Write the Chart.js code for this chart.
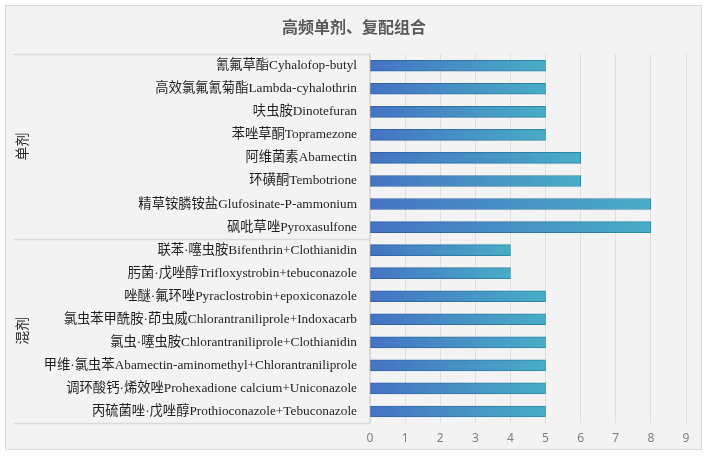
<!DOCTYPE html>
<html>
<head>
<meta charset="utf-8">
<script src="https://cdn.jsdelivr.net/npm/chart.js@4"></script>
<style>
  html, body { margin: 0; padding: 0; background: #fff; }
  #wrap { width: 708px; height: 457px; }
</style>
</head>
<body>
<div id="wrap"><canvas id="chart" width="708" height="457"></canvas></div>
<script>
// chart data
let title_text = "高频单剂、复配组合";
let group_names = ["单剂", "混剂"];
let group_sizes = [8, 8];
let labels = [
    "氰氟草酯Cyhalofop-butyl",
    "高效氯氟氰菊酯Lambda-cyhalothrin",
    "呋虫胺Dinotefuran",
    "苯唑草酮Topramezone",
    "阿维菌素Abamectin",
    "环磺酮Tembotrione",
    "精草铵膦铵盐Glufosinate-P-ammonium",
    "砜吡草唑Pyroxasulfone",
    "联苯·噻虫胺Bifenthrin+Clothianidin",
    "肟菌·戊唑醇Trifloxystrobin+tebuconazole",
    "唑醚·氟环唑Pyraclostrobin+epoxiconazole",
    "氯虫苯甲酰胺·茚虫威Chlorantraniliprole+Indoxacarb",
    "氯虫·噻虫胺Chlorantraniliprole+Clothianidin",
    "甲维·氯虫苯Abamectin-aminomethyl+Chlorantraniliprole",
    "调环酸钙·烯效唑Prohexadione calcium+Uniconazole",
    "丙硫菌唑·戊唑醇Prothioconazole+Tebuconazole"
];
let values = [5, 5, 5, 5, 6, 6, 8, 8, 4, 4, 5, 5, 5, 5, 5, 5];
let x_max = 9;

function bar_gradient(context, c0, c1) {
    let chart = context.chart;
    if (!chart.chartArea || context.type !== "data") return c0;
    let xs = chart.scales.x;
    let x0 = xs.getPixelForValue(0);
    let x1 = xs.getPixelForValue(context.raw);
    let g = chart.ctx.createLinearGradient(x0, 0, x1, 0);
    g.addColorStop(0, c0);
    g.addColorStop(1, c1);
    return g;
}

// background + frame and the group box on the left
let frame_plugin = {
    id: "frame",
    beforeDraw(chart) {
        let c = chart.ctx;
        c.save();
        c.fillStyle = "#f3f3f3";
        c.fillRect(5, 5, 697, 445);
        c.strokeStyle = "#d9d9d9";
        c.lineWidth = 1;
        c.strokeRect(5.5, 5.5, 696, 444);
        c.restore();
    },
    afterDraw(chart) {
        let c = chart.ctx;
        let area = chart.chartArea;
        let step = (area.bottom - area.top) / labels.length;
        c.save();
        c.strokeStyle = "#dadada";
        c.lineWidth = 1.5;
        let start = 0;
        let lines = [area.top];
        for (let i = 0; i < group_sizes.length; i++) {
            start += group_sizes[i];
            lines.push(area.top + start * step);
        }
        lines.forEach(y => {
            c.beginPath();
            c.moveTo(13, Math.round(y) + 0.5);
            c.lineTo(area.left, Math.round(y) + 0.5);
            c.stroke();
        });
        c.fillStyle = "#262626";
        c.font = "14px 'Noto Sans CJK SC'";
        c.textAlign = "center";
        c.textBaseline = "middle";
        for (let i = 0; i < group_names.length; i++) {
            let mid = (lines[i] + lines[i + 1]) / 2;
            c.save();
            c.translate(22, mid);
            c.rotate(-Math.PI / 2);
            c.fillText(group_names[i], 0, 0);
            c.restore();
        }
        c.restore();
    }
};

let chart = new Chart(document.getElementById("chart"), {
    type: "bar",
    data: {
        labels: labels,
        datasets: [{
            data: values,
            barThickness: 11,
            borderWidth: 1,
            borderSkipped: false,
            backgroundColor: ctx => bar_gradient(ctx, "#4573c3", "#48adc6"),
            borderColor: ctx => bar_gradient(ctx, "#2f5fa8", "#2f8aa3")
        }]
    },
    options: {
        indexAxis: "y",
        responsive: false,
        animation: false,
        layout: { padding: { left: 22, right: 22, top: 0, bottom: 7 } },
        plugins: {
            legend: { display: false },
            tooltip: { enabled: false },
            title: {
                display: true,
                text: title_text,
                color: "#595959",
                font: { family: "'Noto Sans CJK SC'", size: 16, weight: "bold" },
                padding: { top: 17, bottom: 18 }
            }
        },
        scales: {
            x: {
                min: 0,
                max: x_max,
                ticks: {
                    stepSize: 1,
                    padding: 8,
                    color: "#7f7f7f",
                    font: { family: "'Noto Sans'", size: 12 }
                },
                grid: { color: "#dedede", drawTicks: false },
                border: { display: false },
                afterFit: s => { s.height = 27; }
            },
            y: {
                ticks: {
                    padding: 13,
                    color: "#1f1f1f",
                    autoSkip: false,
                    font: { family: "'Liberation Serif', 'Noto Sans CJK SC'", size: 13.3 }
                },
                grid: { display: false, drawTicks: false },
                border: { display: true, color: "#d9d9d9", width: 1.5 },
                afterFit: s => { s.width = 348; }
            }
        }
    },
    plugins: [frame_plugin]
});
</script>
</body>
</html>
